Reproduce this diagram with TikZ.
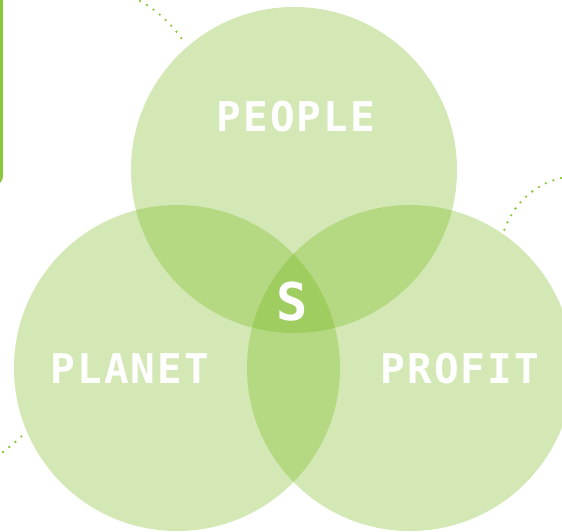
\documentclass[tikz,border=0pt]{standalone}
\usepackage{fontspec}
\usepackage{xcolor}
\newfontfamily\labelfont{DejaVu Sans Mono}[LetterSpace=5]
\definecolor{leaf}{RGB}{118,183,24}
\definecolor{dotgreen}{RGB}{140,198,63}
\tikzset{
  petal/.style={fill=leaf, fill opacity=0.32},
  pillar/.style={text=white, font=\labelfont\bfseries\fontsize{41}{41}\selectfont},
  dotline/.style={dotgreen, line width=2.6pt, line cap=round, dash pattern=on 0pt off 8pt}
}
\begin{document}
\begin{tikzpicture}[x=1pt,y=-1pt]
        \useasboundingbox (0,0) rectangle (562,532);
        \clip (0,0) rectangle (562,532);
        % frame edge on the left
        \draw [dotgreen, line width=3pt, rounded corners=8pt] (-60,-10) rectangle (1.5,184);
        % dotted links
        \draw [dotline] (140,1) .. controls (158,11) and (173,25) .. (184,42);
        \draw [dotline] (561,178) .. controls (535,184) and (512,204) .. (503,234);
        \draw [dotline] (3,452) .. controls (12,445) and (20,438) .. (26,432);
        % the three circles
        \fill [petal] (294,170) circle (163);
        \fill [petal] (177,368) circle (163);
        \fill [petal] (410,368) circle (163);
        \node [pillar] (people) at (296,117) {PEOPLE};
        \node [pillar] (planet) at (130,369) {PLANET};
        \node [pillar] (profit) at (460,369) {PROFIT};
        \node [pillar, font=\labelfont\bfseries\fontsize{52}{52}\selectfont] (centre) at (292,302) {S};
      \end{tikzpicture}
\end{document}
